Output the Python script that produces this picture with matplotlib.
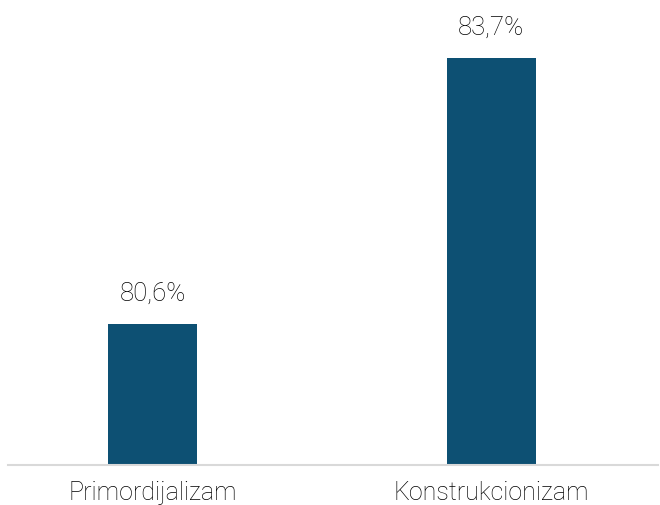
import matplotlib.pyplot as plt

# Podaci
kategorije = ['Primordijalizam', 'Konstrukcionizam']
vrijednosti = [80.6, 83.7]
oznake = ['80,6%', '83,7%']

plt.rcParams['font.family'] = ['Roboto', 'DejaVu Sans']

fig = plt.figure(figsize=(6.6, 5.06), dpi=100)
ax = fig.add_axes([8 / 660, 40 / 506, 650 / 660, 446 / 506])

x = range(len(kategorije))
bars = ax.bar(x, vrijednosti, width=0.263, color='#0d5073')
ax.set_ylim(78.96, 84.16)
ax.set_xlim(-0.427, 1.493)

# Oznake iznad stupaca
for b, t in zip(bars, oznake):
    ax.annotate(t, (b.get_x() + b.get_width() / 2, b.get_height()),
                xytext=(0, 14), textcoords='offset points',
                ha='center', va='bottom', fontsize=18.5, fontweight='light',
                color='#000000')

ax.set_xticks(list(x))
ax.set_xticklabels(kategorije, fontsize=18, fontweight='light', color='#000000')
ax.tick_params(axis='x', length=0, pad=11)
ax.set_yticks([])
for s in ['top', 'right', 'left']:
    ax.spines[s].set_visible(False)
ax.spines['bottom'].set_color('#d9d9d9')
ax.spines['bottom'].set_linewidth(1.5)

fig.savefig('out.png', dpi=100)
